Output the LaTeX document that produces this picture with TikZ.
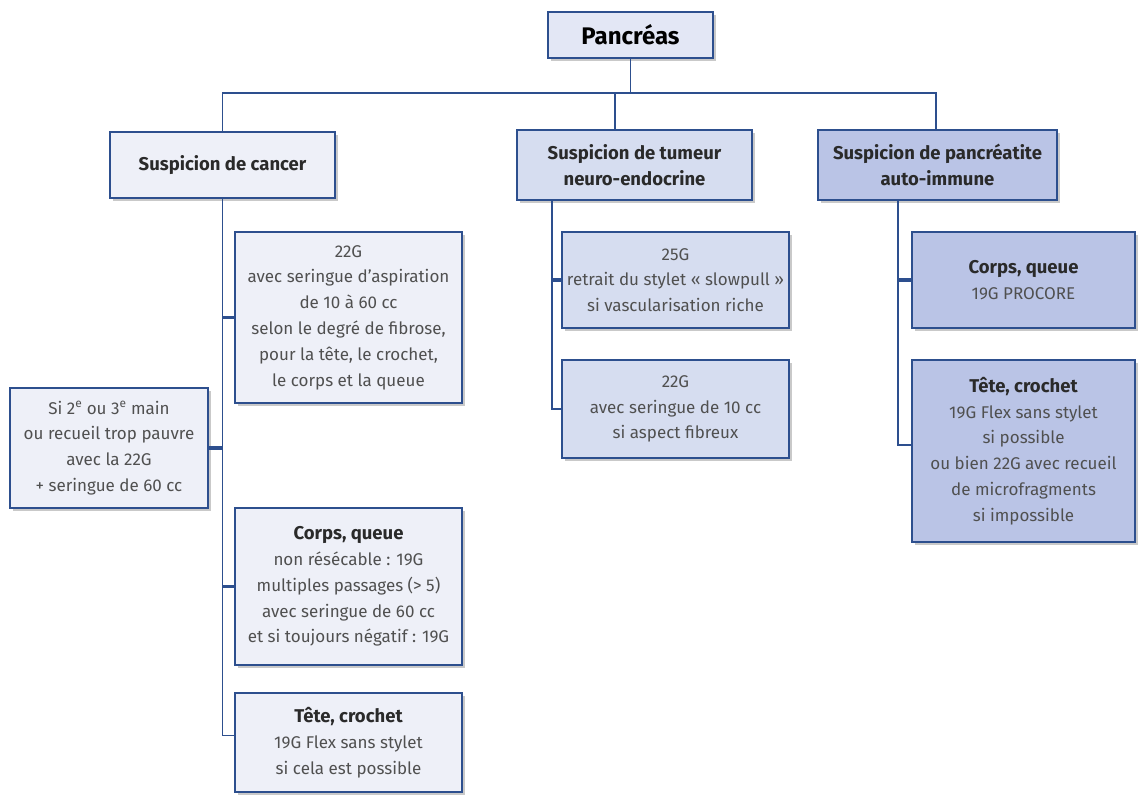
\documentclass[tikz,border=0pt]{standalone}
\usepackage{fontspec}
\setmainfont{Fira Sans}
\usetikzlibrary{shadows}
\definecolor{edge}{HTML}{2D4F8E}
\definecolor{fillP}{HTML}{E3E7F5}
\definecolor{fillC}{HTML}{EEF0F8}
\definecolor{fillT}{HTML}{D6DDF0}
\definecolor{fillA}{HTML}{BAC4E6}
\definecolor{body}{HTML}{505050}
\definecolor{head}{HTML}{2A2A2A}
\tikzset{
  box/.style={draw=edge, line width=1.8pt, align=center, inner sep=1pt, outer sep=0pt,
    font=\fontsize{17}{25.8}\selectfont, text=body,
    drop shadow={shadow xshift=3pt, shadow yshift=-3pt, opacity=0.35, fill=black!60}},
  link/.style={draw=edge, line width=1.8pt},
  stub/.style={draw=edge, line width=3.5pt}
}
\newcommand{\ttl}[1]{{\fontsize{18.5}{25.8}\selectfont\bfseries\color{head}#1}}
\begin{document}
\begin{tikzpicture}[x=1pt,y=-1pt]
\useasboundingbox (0,0) rectangle (1140,801);
\fill[white] (0,0) rectangle (1140,801);
% top
\node[box, fill=fillP, minimum width=165pt, minimum height=46pt, font=\fontsize{24}{28}\selectfont\bfseries, text=black] (P) at (630.5,35) {Pancréas};
\node[box, fill=fillC, minimum width=225pt, minimum height=66pt] (C) at (222.5,165) {\ttl{Suspicion de cancer}};
\node[box, fill=fillT, minimum width=235pt, minimum height=70pt] (T) at (634.5,165) {\ttl{Suspicion de tumeur}\\\ttl{neuro-endocrine}};
\node[box, fill=fillA, minimum width=239pt, minimum height=70pt] (A) at (937.5,165) {\ttl{Suspicion de pancréatite}\\\ttl{auto-immune}};
\coordinate (bus) at (0,93);
\draw[link] (P.south) -- (P.south |- bus);
\draw[link] (C.north) -- (C.north |- bus) -- ([xshift=-1.5pt]A.north |- bus) -- ([xshift=-1.5pt]A.north);
\draw[link] ([xshift=-19.5pt]T.north |- bus) -- ([xshift=-19.5pt]T.north);
% cancer column
\node[box, fill=fillC, minimum width=227pt, minimum height=171pt] (C1) at (348.5,317.5) {22G\\avec seringue d’aspiration\\de 10 à 60 cc\\selon le degré de fibrose,\\pour la tête, le crochet,\\le corps et la queue};
\node[box, fill=fillC, minimum width=198pt, minimum height=120pt] (L) at (109,448) {Si 2\textsuperscript{e} ou 3\textsuperscript{e} main\\ou recueil trop pauvre\\avec la 22G\\+ seringue de 60 cc};
\node[box, fill=fillC, minimum width=227pt, minimum height=157pt] (C2) at (348.5,586.5) {\ttl{Corps, queue}\\non résécable : 19G\\multiples passages (> 5)\\avec seringue de 60 cc\\et si toujours négatif : 19G};
\node[box, fill=fillC, minimum width=227pt, minimum height=99pt] (C3) at (348.5,742.5) {\ttl{Tête, crochet}\\19G Flex sans stylet\\si cela est possible};
\coordinate (cx) at (222.5,0);
\draw[link] (C.south) |- ([yshift=7pt]C3.west);
\draw[stub] (C1.west) -- (C1.west -| cx);
\draw[stub] (L.east) -- (L.east -| cx);
\draw[stub] (C2.west) -- (C2.west -| cx);
% tumeur column
\node[box, fill=fillT, minimum width=227pt, minimum height=96pt] (T1) at (675.5,280) {25G\\retrait du stylet « slowpull »\\si vascularisation riche};
\node[box, fill=fillT, minimum width=227pt, minimum height=98pt] (T2) at (675.5,409) {22G\\avec seringue de 10 cc\\si aspect fibreux};
\coordinate (tx) at (552,0);
\draw[link] (T.south -| tx) |- (T2.west);
\draw[stub] (T1.west) -- (T1.west -| tx);
% auto-immune column
\node[box, fill=fillA, minimum width=223pt, minimum height=96pt] (A1) at (1023.5,280) {\ttl{Corps, queue}\\19G PROCORE};
\node[box, fill=fillA, minimum width=223pt, minimum height=182pt] (A2) at (1023.5,451) {\ttl{Tête, crochet}\\19G Flex sans stylet\\si possible\\ou bien 22G avec recueil\\de microfragments\\si impossible};
\coordinate (ax) at (898,0);
\draw[link] (A.south -| ax) |- ([yshift=6pt]A2.west);
\draw[stub] (A1.west) -- (A1.west -| ax);
\end{tikzpicture}
\end{document}
